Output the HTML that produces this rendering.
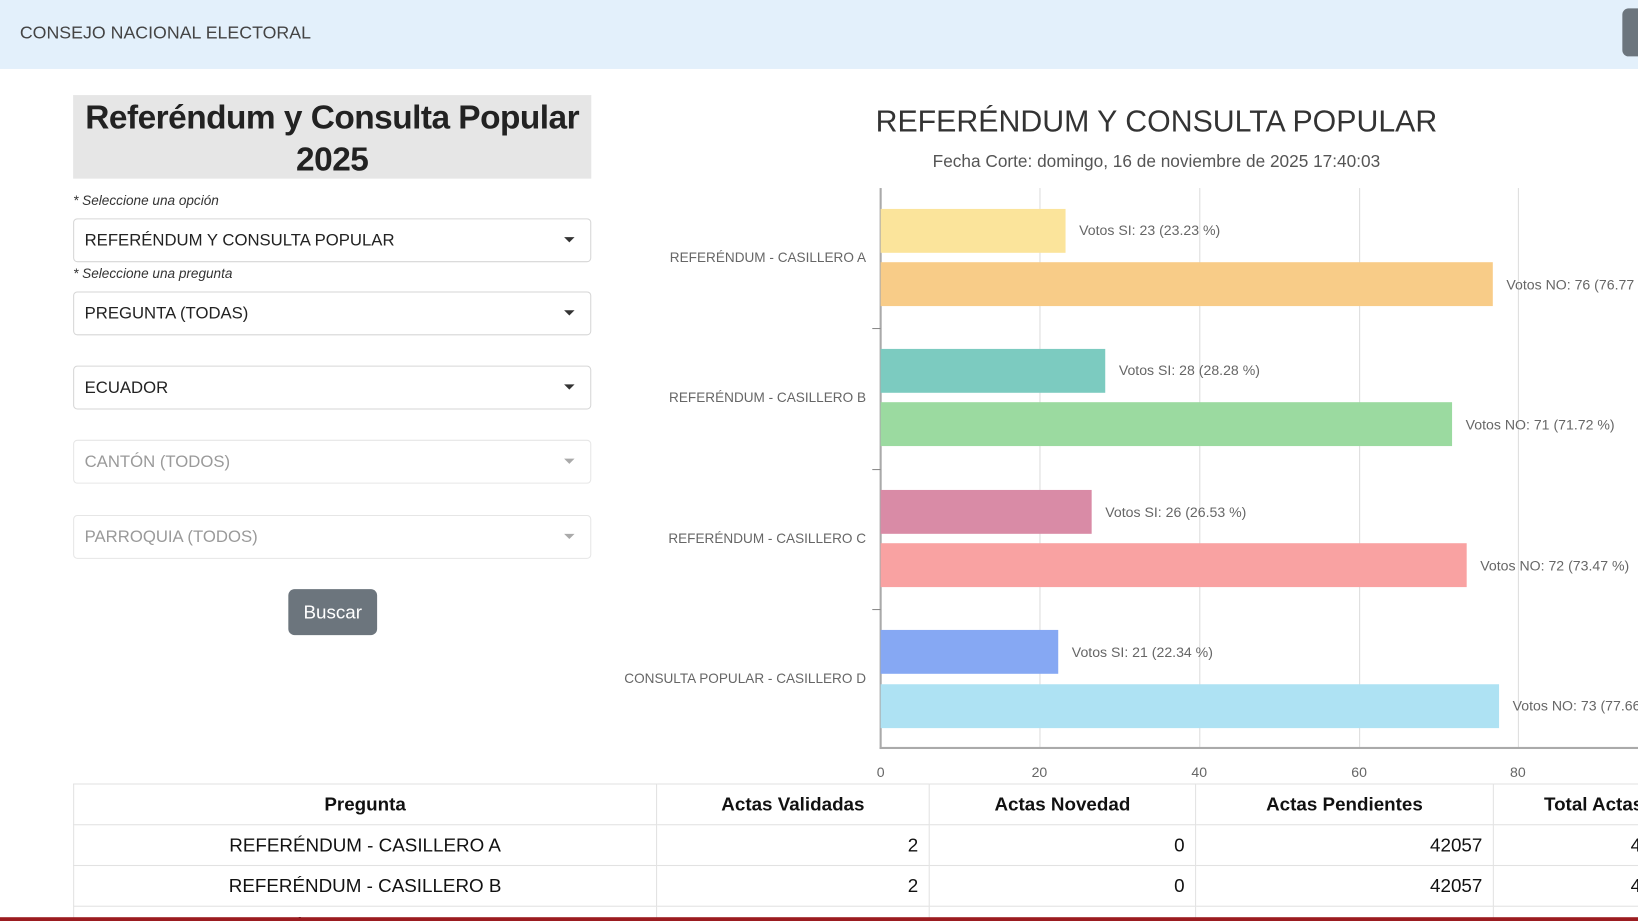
<!DOCTYPE html>
<html><head><meta charset="utf-8"><style>
html,body{margin:0;padding:0;width:1638px;height:921px;overflow:hidden;background:#fff;font-family:"Liberation Sans",sans-serif}
#w{position:absolute;left:0;top:0;width:1568px;height:882px;overflow:hidden;transform:scale(1.04465);transform-origin:0 0}
.a{position:absolute}
.sel{position:absolute;left:70px;width:494px;height:40px;border:1px solid #d6d6d6;border-radius:4px;background:#fff;font-size:16px;color:#222;line-height:40px;padding-left:10px;box-sizing:border-box}
.sel.d{color:#9a9a9a;border-color:#e6e6e6}
.sel:after{content:"";position:absolute;right:15px;top:17px;border-left:5px solid transparent;border-right:5px solid transparent;border-top:5px solid #333}
.sel.d:after{border-top-color:#aaa}
.lab{position:absolute;left:70px;font-size:13px;font-style:italic;color:#333}
.bar{position:absolute;left:843px;height:42px}
.bl{position:absolute;font-size:13.5px;color:#666;white-space:nowrap}
.cat{position:absolute;right:739px;font-size:13px;color:#666;white-space:nowrap}
.g{position:absolute;top:180px;height:536px;width:1px;background:#ddd}
.tk{position:absolute;top:732px;font-size:13.5px;color:#666;width:40px;text-align:center}
table{position:absolute;left:70px;top:750px;border-collapse:collapse;table-layout:fixed;width:1551px;font-size:18px;color:#111}
td,th{border:1px solid #e2e2e2;height:38px;padding:0 10px;white-space:nowrap;overflow:hidden}
th{font-weight:bold;text-align:center}
td{text-align:right}
</style></head><body><div id="w">
<div class="a" style="left:0;top:0;width:1568px;height:66px;background:#e3f0fb"></div>
<div class="a" style="left:19px;top:22px;font-size:17px;color:#444">CONSEJO NACIONAL ELECTORAL</div>
<div class="a" style="left:1553px;top:8px;width:30px;height:46px;background:#6c757d;border-radius:6px"></div>

<div class="a" style="left:70px;top:91px;width:496px;height:80px;background:#e6e6e6"></div>
<div class="a" style="left:70px;top:92px;width:496px;text-align:center;font-weight:bold;font-size:32px;line-height:40px;color:#222;white-space:nowrap;letter-spacing:-0.5px">Referéndum y Consulta Popular<br>2025</div>
<div class="lab" style="top:184px">* Seleccione una opción</div>
<div class="sel" style="top:209px;width:496px;height:42px;line-height:42px">REFERÉNDUM Y CONSULTA POPULAR</div>
<div class="lab" style="top:254px">* Seleccione una pregunta</div>
<div class="sel" style="top:279px;width:496px;height:42px;line-height:42px">PREGUNTA (TODAS)</div>
<div class="sel" style="top:350px;width:496px;height:42px;line-height:42px">ECUADOR</div>
<div class="sel d" style="top:421px;width:496px;height:42px;line-height:42px">CANTÓN (TODOS)</div>
<div class="sel d" style="top:493px;width:496px;height:42px;line-height:42px">PARROQUIA (TODOS)</div>
<div class="a" style="left:276px;top:564px;width:85px;height:44px;background:#6c757d;border-radius:6px;color:#fff;font-size:18px;text-align:center;line-height:44px">Buscar</div>

<div class="a" style="left:707px;top:101px;width:800px;text-align:center;font-size:29px;color:#333">REFERÉNDUM Y CONSULTA POPULAR</div>
<div class="a" style="left:707px;top:146px;width:800px;text-align:center;font-size:16.5px;color:#555">Fecha Corte: domingo, 16 de noviembre de 2025 17:40:03</div>

<div class="g" style="left:995px"></div><div class="g" style="left:1148px"></div><div class="g" style="left:1301px"></div><div class="g" style="left:1453px"></div>
<div class="a" style="left:842px;top:180px;width:2px;height:537px;background:#aaa"></div>
<div class="a" style="left:842px;top:715px;width:726px;height:2px;background:#aaa"></div>
<div class="a" style="left:835px;top:314px;width:8px;height:1px;background:#888"></div>
<div class="a" style="left:835px;top:449px;width:8px;height:1px;background:#888"></div>
<div class="a" style="left:835px;top:583px;width:8px;height:1px;background:#888"></div>
<div class="tk" style="left:823px">0</div><div class="tk" style="left:975px">20</div><div class="tk" style="left:1128px">40</div><div class="tk" style="left:1281px">60</div><div class="tk" style="left:1433px">80</div>

<div class="bar" style="top:200px;width:177px;background:#fbe49b"></div>
<div class="bar" style="top:251px;width:586px;background:#f8cc88"></div>
<div class="bar" style="top:334px;width:215px;background:#7ccbc0"></div>
<div class="bar" style="top:385px;width:547px;background:#9bdaa0"></div>
<div class="bar" style="top:469px;width:202px;background:#d98ba6"></div>
<div class="bar" style="top:520px;width:561px;background:#f9a2a2"></div>
<div class="bar" style="top:603px;width:170px;background:#86a8f3"></div>
<div class="bar" style="top:655px;width:592px;background:#aee2f3"></div>

<div class="bl" style="left:1033px;top:213px">Votos SI: 23 (23.23 %)</div>
<div class="bl" style="left:1442px;top:265px">Votos NO: 76 (76.77 %)</div>
<div class="bl" style="left:1071px;top:347px">Votos SI: 28 (28.28 %)</div>
<div class="bl" style="left:1403px;top:399px">Votos NO: 71 (71.72 %)</div>
<div class="bl" style="left:1058px;top:483px">Votos SI: 26 (26.53 %)</div>
<div class="bl" style="left:1417px;top:534px">Votos NO: 72 (73.47 %)</div>
<div class="bl" style="left:1026px;top:617px">Votos SI: 21 (22.34 %)</div>
<div class="bl" style="left:1448px;top:668px">Votos NO: 73 (77.66 %)</div>

<div class="cat" style="top:239px">REFERÉNDUM - CASILLERO A</div>
<div class="cat" style="top:373px">REFERÉNDUM - CASILLERO B</div>
<div class="cat" style="top:508px">REFERÉNDUM - CASILLERO C</div>
<div class="cat" style="top:642px">CONSULTA POPULAR - CASILLERO D</div>

<table>
<colgroup><col style="width:558px"><col style="width:261px"><col style="width:255px"><col style="width:285px"><col style="width:192px"></colgroup>
<tr><th>Pregunta</th><th>Actas Validadas</th><th>Actas Novedad</th><th>Actas Pendientes</th><th>Total Actas</th></tr>
<tr><td style="text-align:center">REFERÉNDUM - CASILLERO A</td><td>2</td><td>0</td><td>42057</td><td>42059</td></tr>
<tr><td style="text-align:center">REFERÉNDUM - CASILLERO B</td><td>2</td><td>0</td><td>42057</td><td>42059</td></tr>
<tr><td style="text-align:center">REFERÉNDUM - CASILLERO C</td><td>2</td><td>0</td><td>42057</td><td>42059</td></tr>
</table>
<div class="a" style="left:0;top:878px;width:1568px;height:4px;background:#9b1c20"></div>
</div></body></html>
